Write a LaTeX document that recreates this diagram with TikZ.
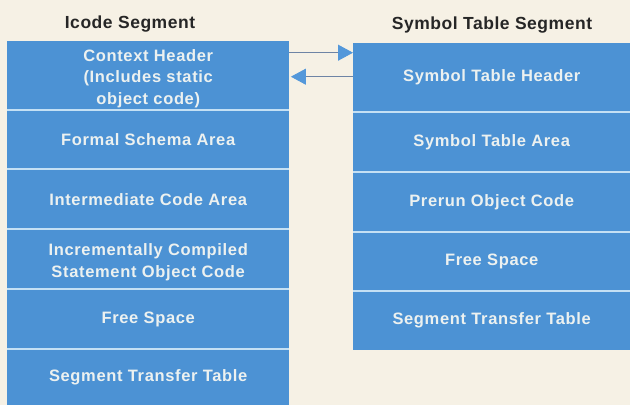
\documentclass[tikz,border=0pt]{standalone}
\usepackage{fontspec}
\setmainfont{Liberation Sans}
\newfontfamily\boxfont[LetterSpace=4]{Liberation Sans}
\newfontfamily\titlefont[LetterSpace=3]{Liberation Sans}
\usetikzlibrary{arrows.meta,calc}
\definecolor{bg}{RGB}{246,241,229}
\definecolor{cellblue}{RGB}{76,146,212}
\definecolor{sepc}{RGB}{196,224,244}
\definecolor{txt}{RGB}{236,241,240}
\definecolor{arrline}{RGB}{110,132,165}
\definecolor{arrhead}{RGB}{84,152,218}
\newcommand{\topstrut}{\rule{0pt}{18pt}}
\tikzset{
  cell/.style={draw=none, fill=cellblue, rectangle, inner sep=0pt, minimum width=#1, text=txt,
     font=\boxfont\bfseries\fontsize{16.5}{21.5}\selectfont, align=center, anchor=north west},
  sepline/.style={draw=sepc, line width=2pt},
  title/.style={font=\titlefont\bfseries\fontsize{17.5}{20}\selectfont, text=black!85, anchor=base},
  conn/.style={draw=arrline, line width=0.9pt, -{Triangle[length=15pt,width=16pt,color=arrhead]}}
}
\begin{document}
\begin{tikzpicture}[x=1pt,y=-1pt]
\fill[bg] (0,0) rectangle (630,405);
\useasboundingbox (0,0) rectangle (630,405);
% titles
\node[title] (t1) at (130,28) {Icode Segment};
\node[title] (t2) at (492,29) {Symbol Table Segment};
% left column
\node[cell=282pt, minimum height=69pt] (l1) at (7,41) {\topstrut Context Header\\(Includes static\\object code)};
\node[cell=282pt, minimum height=59pt] (l2) at (7,110) {Formal Schema Area};
\node[cell=282pt, minimum height=60pt] (l3) at (7,169) {Intermediate Code Area};
\node[cell=282pt, minimum height=60pt] (l4) at (7,229) {\topstrut Incrementally Compiled\\Statement Object Code};
\node[cell=282pt, minimum height=60pt] (l5) at (7,289) {Free Space};
\node[cell=282pt, minimum height=56pt] (l6) at (7,349) {Segment Transfer Table};
% right column
\node[cell=277pt, minimum height=69pt] (r1) at (353,43) {Symbol Table Header};
\node[cell=277pt, minimum height=60pt] (r2) at (353,112) {Symbol Table Area};
\node[cell=277pt, minimum height=60pt] (r3) at (353,172) {Prerun Object Code};
\node[cell=277pt, minimum height=59pt] (r4) at (353,232) {Free Space};
\node[cell=277pt, minimum height=59pt] (r5) at (353,291) {Segment Transfer Table};
% separators
\foreach \n in {l1,l2,l3,l4,l5,r1,r2,r3,r4}{
  \draw[sepline] (\n.south west) -- (\n.south east);
}
% connectors
\coordinate (a1s) at ($(l1.north east)+(0,11.7)$);
\coordinate (a2s) at ($(r1.north west)+(0,33.7)$);
\draw[conn] (a1s) -- (a1s -| r1.west);
\draw[conn] (a2s) -- ($(a2s -| l1.east)+(1.5,0)$);
\end{tikzpicture}
\end{document}
